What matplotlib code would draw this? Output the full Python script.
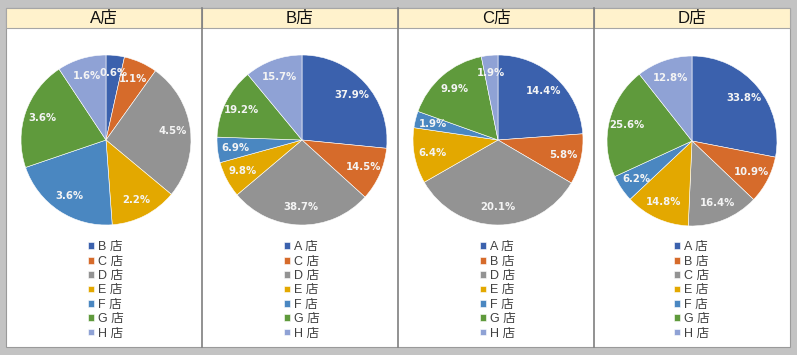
import matplotlib.pyplot as plt
from matplotlib.patches import Rectangle

plt.rcParams['font.family'] = ['Liberation Sans', 'Noto Sans CJK JP']

# data
shops = ['A店', 'B店', 'C店', 'D店']
legend_a = ['B 店', 'C 店', 'D 店', 'E 店', 'F 店', 'G 店', 'H 店']
legend_b = ['A 店', 'C 店', 'D 店', 'E 店', 'F 店', 'G 店', 'H 店']
legend_c = ['A 店', 'B 店', 'D 店', 'E 店', 'F 店', 'G 店', 'H 店']
legend_d = ['A 店', 'B 店', 'C 店', 'E 店', 'F 店', 'G 店', 'H 店']
vals_a = [0.6, 1.1, 4.5, 2.2, 3.6, 3.6, 1.6]
vals_b = [37.9, 14.5, 38.7, 9.8, 6.9, 19.2, 15.7]
vals_c = [14.4, 5.8, 20.1, 6.4, 1.9, 9.9, 1.9]
vals_d = [33.8, 10.9, 16.4, 14.8, 6.2, 25.6, 12.8]

colors = ['#3b61ad', '#d66b2b', '#939393', '#e3a800', '#4a87c1', '#5f9a3c', '#8fa2d5']

W, H = 797, 355
fig = plt.figure(figsize=(W / 100, H / 100), dpi=100, facecolor='#c3c3c3')

bg = fig.add_axes([0, 0, 1, 1])
bg.set_xlim(0, W)
bg.set_ylim(H, 0)
bg.axis('off')
bg.add_patch(Rectangle((6, 8), 784, 339, facecolor='white', edgecolor='#9a9a9a', lw=0.8))

edges = [6, 202, 398, 594, 790]
for i, name in enumerate(shops):
    x0, x1 = edges[i], edges[i + 1]
    bg.add_patch(Rectangle((x0, 8), x1 - x0, 20, facecolor='#fff2cc', edgecolor='#a6a6a6', lw=0.8))
    bg.text((x0 + x1) / 2, 18.5, name, ha='center', va='center', fontsize=12, color='#111111')
for x in edges[1:-1]:
    bg.plot([x, x], [8, 347], color='#7f7f7f', lw=1.2)

centers = [(106, 140), (302, 140), (498, 140), (692, 141)]
R = 85
all_vals = [vals_a, vals_b, vals_c, vals_d]
all_leg = [legend_a, legend_b, legend_c, legend_d]

for (cx, cy), vals, labs in zip(centers, all_vals, all_leg):
    ax = fig.add_axes([(cx - R) / W, 1 - (cy + R) / H, 2 * R / W, 2 * R / H])
    wedges, _, autotexts = ax.pie(vals, colors=colors, startangle=90, counterclock=False,
                                  autopct='%1.1f%%', pctdistance=0.79,
                                  wedgeprops=dict(edgecolor='white', linewidth=0.4))
    for t, v in zip(autotexts, vals):
        t.set_text(f'{v}%')
        t.set_color('#f4f4f4')
        t.set_fontsize(7.3)
        t.set_fontweight('bold')
        t.set_fontfamily('DejaVu Sans')
    ax.set_xlim(-1, 1)
    ax.set_ylim(-1, 1)
    ax.set_aspect('equal')
    fig.legend(wedges, labs, loc='upper center', bbox_to_anchor=(cx / W, 1 - 235 / H),
               frameon=False, fontsize=9, handlelength=0.45, handleheight=0.45,
               handletextpad=0.35, labelspacing=0.19, labelcolor='#404040',
               borderpad=0)

fig.savefig('out.png', dpi=100, facecolor=fig.get_facecolor())
